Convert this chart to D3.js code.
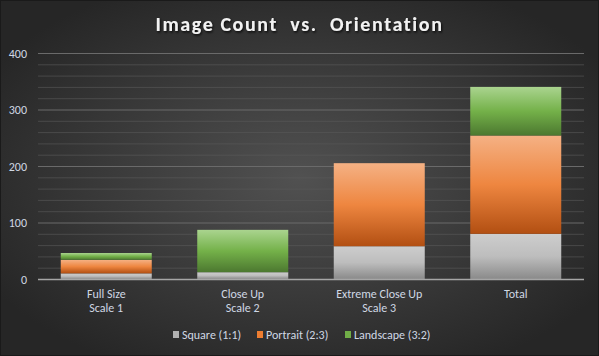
<!DOCTYPE html>
<html><head><meta charset="utf-8">
<script src="https://cdn.jsdelivr.net/npm/d3@7"></script>
<style>
html,body{margin:0;padding:0;background:#2a2a2a;}
svg{display:block;}
</style></head>
<body>
<script>
const categories = [["Full Size","Scale 1"],["Close Up","Scale 2"],["Extreme Close Up","Scale 3"],["Total"]];
const seriesNames = ["Square (1:1)","Portrait (2:3)","Landscape (3:2)"];
const square = [10, 12, 58, 80];
const portrait = [24, 0, 147, 174];
const landscape = [12, 75, 0, 86];
const yTicks = [0, 100, 200, 300, 400];
const title = "Image Count  vs.  Orientation";

(function(){
const W = 599, H = 356;
const svg = d3.select("body").append("svg").attr("width", W).attr("height", H);
const defs = svg.append("defs");

const bg = defs.append("radialGradient").attr("id","bg").attr("cx","50%").attr("cy","50%").attr("r","60%");
bg.append("stop").attr("offset","0%").attr("stop-color","#515151");
bg.append("stop").attr("offset","100%").attr("stop-color","#262626");

const grads = [
  ["gSq", ["#cdcdcd","#bdbdbd","#8a8a8a"]],
  ["gPo", ["#f5b184","#ee8640","#b24f12"]],
  ["gLa", ["#aad48f","#74b149","#4c7830"]]
];
grads.forEach(([id, cols]) => {
  const g = defs.append("linearGradient").attr("id", id).attr("x1",0).attr("y1",0).attr("x2",0).attr("y2",1);
  g.append("stop").attr("offset","0%").attr("stop-color",cols[0]);
  g.append("stop").attr("offset","50%").attr("stop-color",cols[1]);
  g.append("stop").attr("offset","100%").attr("stop-color",cols[2]);
});
const fills = ["url(#gSq)","url(#gPo)","url(#gLa)"];
const swatch = ["#b0b0b0","#ed7d31","#70ad47"];

const sh = defs.append("filter").attr("id","ts").attr("x","-10%").attr("y","-30%").attr("width","120%").attr("height","160%");
sh.append("feDropShadow").attr("dx",1).attr("dy",1.5).attr("stdDeviation",1).attr("flood-color","#000").attr("flood-opacity",0.8);

svg.append("rect").attr("x",0).attr("y",0).attr("width",W).attr("height",H).attr("fill","url(#bg)");
svg.append("rect").attr("x",0.5).attr("y",0.5).attr("width",W-1).attr("height",H-1).attr("fill","none").attr("stroke","#1a1a1a");

const font = "Carlito, 'Open Sans', 'Liberation Sans', sans-serif";
const pl = 38, pr = 584, pt = 53, pb = 279;

const x = d3.scaleBand().domain(d3.range(categories.length)).range([pl, pr]).paddingInner(1/3).paddingOuter(1/6);
const y = d3.scaleLinear().domain([0, 400]).range([pb, pt]);

svg.append("g").selectAll("line").data(d3.range(20, 400, 20).filter(v => v % 100 !== 0)).join("line")
  .attr("x1", pl).attr("x2", pr).attr("y1", d => y(d)+0.5).attr("y2", d => y(d)+0.5)
  .attr("stroke", "#5a5a5a").attr("stroke-width", 1).attr("opacity", 0.6);

svg.append("g").selectAll("line").data(yTicks.filter(v => v > 0)).join("line")
  .attr("x1", pl).attr("x2", pr).attr("y1", d => y(d)+0.5).attr("y2", d => y(d)+0.5)
  .attr("stroke", "#6a6a6a").attr("stroke-width", 1);

const yAxis = d3.axisLeft(y).tickValues(yTicks).tickSize(0).tickPadding(0);
const ya = svg.append("g").attr("transform", `translate(${pl-11},0)`).call(yAxis);
ya.select(".domain").remove();
ya.selectAll("text").attr("font-family", font).attr("font-size", 12).attr("fill", "#d0d8e4").attr("dy","0.35em");

const rows = categories.map((c, i) => ({i, s0: square[i], s1: portrait[i], s2: landscape[i]}));
const stack = d3.stack().keys(["s0","s1","s2"])(rows);
stack.forEach((layer, k) => {
  svg.append("g").selectAll("rect").data(layer).join("rect")
    .attr("x", d => x(d.data.i))
    .attr("width", x.bandwidth())
    .attr("y", d => y(d[1]))
    .attr("height", d => Math.max(0, y(d[0]) - y(d[1])))
    .attr("fill", fills[k]);
});

svg.append("line").attr("x1", pl).attr("x2", pr).attr("y1", pb+0.5).attr("y2", pb+0.5)
  .attr("stroke", "#a6a6a6").attr("stroke-width", 1.5);

const xl = svg.append("g").selectAll("text").data(categories).join("text")
  .attr("x", (d, i) => x(i) + x.bandwidth()/2).attr("y", 298)
  .attr("text-anchor", "middle").attr("font-family", font).attr("font-size", 12).attr("fill", "#d0d8e4");
xl.selectAll("tspan").data(d => d).join("tspan")
  .attr("x", function(){ return this.parentNode.getAttribute("x"); })
  .attr("dy", (d, j) => j === 0 ? 0 : 14).text(d => d);

svg.append("text").attr("x", W/2).attr("y", 31).attr("text-anchor", "middle")
  .attr("font-family", font).attr("font-size", 20).attr("font-weight", "bold")
  .attr("letter-spacing", 1.6).attr("fill", "#f2f2f2").attr("filter","url(#ts)")
  .style("white-space","pre").text(title);

const legendX = [173, 257, 345];
const lg = svg.append("g").selectAll("g").data(seriesNames).join("g")
  .attr("transform", (d, i) => `translate(${legendX[i]},335)`);
lg.append("rect").attr("x", 0).attr("y", -4).attr("width", 6).attr("height", 7).attr("fill", (d, i) => swatch[i]);
lg.append("text").attr("x", 9).attr("y", 0).attr("dy", "0.35em").attr("font-family", font).attr("font-size", 12)
  .attr("fill", "#d0d8e4").text(d => d);
})();
</script>
</body></html>
